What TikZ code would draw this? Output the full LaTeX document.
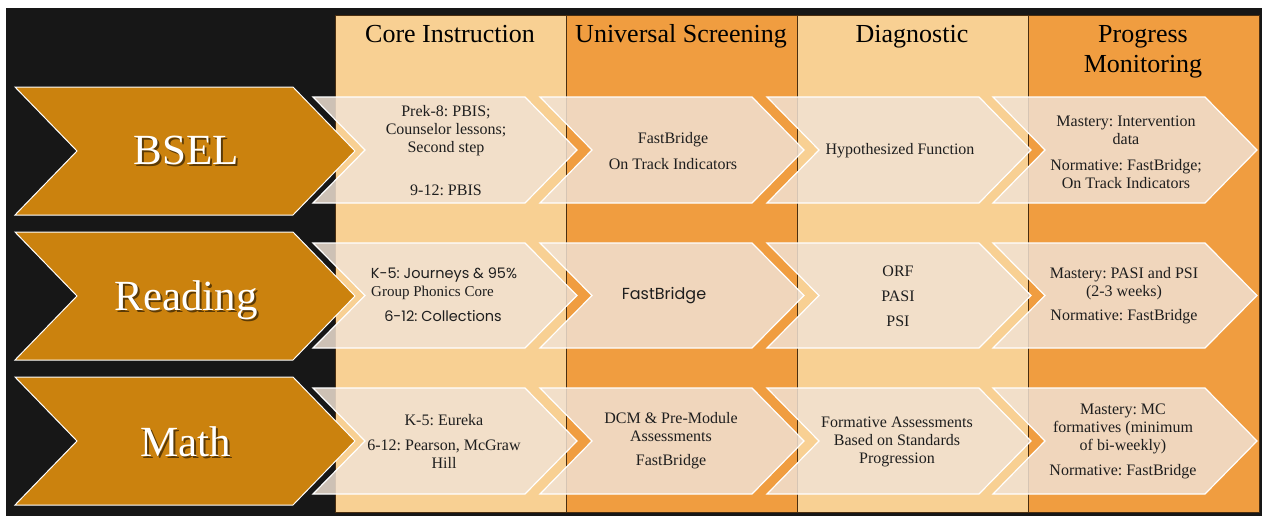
\documentclass[tikz,border=0pt]{standalone}
\usepackage{fontspec}
\setmainfont{Liberation Serif}
\newfontfamily\gothic{Poppins}
\frenchspacing
\definecolor{board}{HTML}{171717}
\definecolor{collight}{HTML}{F8D093}
\definecolor{coldark}{HTML}{F09D40}
\definecolor{colline}{HTML}{4A2E10}
\definecolor{gold}{HTML}{CB820E}
\definecolor{paper}{HTML}{F1E2D4}
\definecolor{ink}{HTML}{1E1E1E}

\begin{document}
\begin{tikzpicture}[x=1pt,y=-1pt,line join=miter]
	\tikzstyle{col1}=[draw=colline,line width=0.8pt,fill=collight];
	\tikzstyle{col2}=[draw=colline,line width=0.8pt,fill=coldark];
	\tikzstyle{subject}=[draw=white,line width=1pt,fill=gold];
	\tikzstyle{tool}=[draw=white,line width=1.2pt,fill=paper,fill opacity=0.84];
	\tikzstyle{head}=[font=\fontsize{26}{30}\selectfont,align=center,anchor=base,text=black];
	\tikzstyle{txt}=[font=\fontsize{16}{18}\selectfont,align=center,text=ink,inner sep=0pt];
	\tikzstyle{sans}=[font=\gothic\fontsize{14.5}{18}\selectfont,text=ink,inner sep=0pt];
	\tikzstyle{big}=[font=\fontsize{43}{43}\selectfont,anchor=base,text=white];
	\tikzstyle{bigshade}=[font=\fontsize{43}{43}\selectfont,anchor=base,text=black,text opacity=0.55];

	\useasboundingbox (0,0) rectangle (1265,519);
	\fill[white] (0,0) rectangle (1265,519);
	\fill[board] (6,8) rectangle (1262,516);

	% columns
	\draw[col1] (335,15)  rectangle (566,512);
	\draw[col2] (566,15)  rectangle (797,512);
	\draw[col1] (797,15)  rectangle (1028,512);
	\draw[col2] (1028,15) rectangle (1259,512);
	\node[head] (core) at (450,43)  {Core Instruction};
	\node[head] (univ) at (681,43)  {Universal Screening};
	\node[head] (diag) at (912,43)  {Diagnostic};
	\node[head] (prog) at (1143,73) {Progress\\Monitoring};

	% subject arrows
	\foreach \t/\b in {87/215,232/360,377/505}
		\draw[subject] (15,\t) -- (293,\t) -- (355,{(\t+\b)/2}) -- (293,\b) -- (15,\b) -- (77,{(\t+\b)/2}) -- cycle;
	\node[bigshade] (bsel-s)    at (188,166) {BSEL};
	\node[big]      (bsel)      at (186,164) {BSEL};
	\node[bigshade] (reading-s) at (188,312) {Reading};
	\node[big]      (reading)   at (186,310) {Reading};
	\node[bigshade] (math-s)    at (188,458) {Math};
	\node[big]      (math)      at (186,456) {Math};

	% tool arrows
	\foreach \t/\b in {97/203,243/348,388/494}
		\foreach \l in {313,540,767,993}
			\draw[tool] (\l,\t) -- ({\l+212},\t) -- ({\l+264},{(\t+\b)/2}) -- ({\l+212},\b) -- (\l,\b) -- ({\l+52},{(\t+\b)/2}) -- cycle;

	% BSEL row
	\node[txt] (bsel-core) at (446,151) {Prek-8: PBIS;\\Counselor lessons;\\Second step\\[25pt]9-12: PBIS};
	\node[txt] (bsel-univ) at (673,151) {FastBridge\\[8pt]On Track Indicators};
	\node[txt] (bsel-diag) at (900,151) {Hypothesized Function};
	\node[txt] (bsel-prog) at (1126,152) {Mastery: Intervention\\data\\[8pt]Normative: FastBridge;\\On Track Indicators};

	% Reading row
	\node[sans] (read-core) at (444,275) {K-5: Journeys \& 95\%};
	\node[txt,font=\fontsize{15}{18}\selectfont,anchor=west] (read-core2) at (371,293) {Group Phonics Core};
	\node[sans] (read-core3) at (443,316) {6-12: Collections};
	\node[sans,font=\gothic\fontsize{16}{18}\selectfont] (read-univ) at (664,296) {FastBridge};
	\node[txt] (read-diag) at (898,296) {ORF\\[7pt]PASI\\[7pt]PSI};
	\node[txt] (read-prog) at (1124,296) {Mastery: PASI and PSI\\(2-3 weeks)\\[6pt]Normative: FastBridge};

	% Math row
	\node[txt] (math-core) at (444,441) {K-5: Eureka\\[7pt]6-12: Pearson, McGraw\\Hill};
	\node[txt] (math-univ) at (671,441) {DCM \& Pre-Module\\Assessments\\[6pt]FastBridge};
	\node[txt] (math-diag) at (897,442) {Formative Assessments\\Based on Standards\\Progression};
	\node[txt] (math-prog) at (1123,441) {Mastery: MC\\formatives (minimum\\of bi-weekly)\\[7pt]Normative: FastBridge};
\end{tikzpicture}
\end{document}
